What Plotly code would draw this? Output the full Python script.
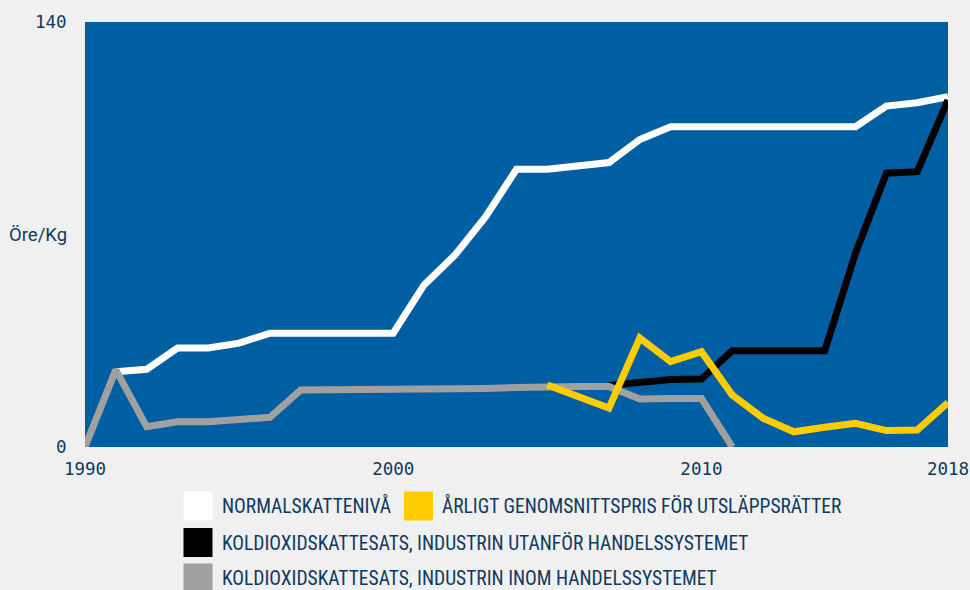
import plotly.graph_objects as go

# ---- data ----
years_normal = list(range(1991, 2019))
normal = [24.8, 25.6, 32.6, 32.6, 34.2, 37.5, 37.5, 37.5, 37.5, 37.5,
          53.4, 63.2, 75.9, 91.5, 91.5, 92.6, 93.7, 101.3, 105.5, 105.5,
          105.5, 105.5, 105.5, 105.5, 105.5, 112.3, 113.4, 115.4]

years_outside = list(range(2007, 2019))
outside = [20.3, 21.5, 22.2, 22.4, 31.7, 31.7, 31.7, 31.7, 63.9, 90.2, 90.7, 114.3]

years_inside = list(range(1990, 2012))
inside = [0.0, 25.4, 6.7, 8.3, 8.3, 9.1, 9.8, 18.8, 18.8, 18.8,
          18.8, 18.8, 19.1, 19.3, 19.6, 19.9, 19.9, 19.9, 15.8, 16.0,
          16.0, 0.0]

years_eua = list(range(2005, 2019))
eua = [20.4, 16.6, 12.8, 35.9, 28.1, 31.4, 17.1, 9.5, 5.0, 6.5, 7.8, 5.4, 5.6, 14.6]

x_ticks = [1990, 2000, 2010, 2018]
y_ticks = [0, 140]
y_label = "Öre/Kg"

legend_labels = ["NORMALSKATTENIVÅ",
                 "ÅRLIGT GENOMSNITTSPRIS FÖR UTSLÄPPSRÄTTER",
                 "KOLDIOXIDSKATTESATS, INDUSTRIN UTANFÖR HANDELSSYSTEMET",
                 "KOLDIOXIDSKATTESATS, INDUSTRIN INOM HANDELSSYSTEMET"]

# ---- styling ----
C_WHITE = "#ffffff"
C_YELLOW = "#ffcc00"
C_BLACK = "#000000"
C_GREY = "#a0a0a0"
C_BG = "#005ea2"
C_PAPER = "#f0f0f0"
C_TEXT = "#0d3a63"
legend_colors = [C_WHITE, C_YELLOW, C_BLACK, C_GREY]

W, H = 970, 590
L, R, T, B = 85, 22, 22, 143
PW, PH = W - L - R, H - T - B

def px_x(px):
    return (px - L) / PW

def px_y(py):
    return (H - B - py) / PH

fig = go.Figure()
LW = 7
fig.add_trace(go.Scatter(x=years_normal, y=normal, mode="lines",
                         line=dict(color=C_WHITE, width=LW), showlegend=False))
fig.add_trace(go.Scatter(x=years_outside, y=outside, mode="lines",
                         line=dict(color=C_BLACK, width=LW), showlegend=False))
fig.add_trace(go.Scatter(x=years_inside, y=inside, mode="lines",
                         line=dict(color=C_GREY, width=LW), showlegend=False))
fig.add_trace(go.Scatter(x=years_eua, y=eua, mode="lines",
                         line=dict(color=C_YELLOW, width=LW), showlegend=False))

tick_font = dict(family="DejaVu Sans Mono, monospace", size=17.5, color=C_TEXT)
fig.update_layout(
    width=W, height=H, autosize=False,
    margin=dict(l=L, r=R, t=T, b=B, autoexpand=False),
    paper_bgcolor=C_PAPER, plot_bgcolor=C_BG,
    showlegend=False,
    xaxis=dict(range=[1990, 2018], tickvals=x_ticks, ticktext=[str(v) for v in x_ticks],
               showgrid=False, zeroline=False, showline=False, automargin=False,
               ticks="outside", ticklen=6, tickcolor="rgba(0,0,0,0)",
               tickfont=tick_font, fixedrange=True),
    yaxis=dict(range=[0, 140], tickvals=y_ticks, ticktext=[str(v) for v in y_ticks],
               showgrid=False, zeroline=False, showline=False, automargin=False,
               ticks="outside", ticklen=14, tickcolor="rgba(0,0,0,0)",
               tickfont=tick_font, fixedrange=True),
)

fig.add_annotation(x=px_x(69), y=70, xref="paper", yref="y", text=y_label,
                   showarrow=False, xanchor="right", yanchor="middle",
                   font=dict(family="Roboto, Noto Sans, sans-serif", size=18.5, color=C_TEXT))

# ---- manual legend ----
leg_font = dict(family="Liberation Sans Narrow, Roboto Condensed, DejaVu Sans Condensed, sans-serif",
                size=19.5, color=C_TEXT)
# (square left px, center y px, text left px)
leg_pos = [(183.5, 506, 220), (404, 506, 440), (183.5, 542.5, 220), (183.5, 578, 220)]
for (sx, cy, tx), lab, col in zip(leg_pos, legend_labels, legend_colors):
    fig.add_shape(type="rect", xref="paper", yref="paper",
                  x0=px_x(sx), x1=px_x(sx + 29), y0=px_y(cy - 14.5), y1=px_y(cy + 14.5),
                  fillcolor=col, line=dict(width=0), layer="above")
    fig.add_annotation(x=px_x(tx), y=px_y(cy), xref="paper", yref="paper", text=lab,
                       showarrow=False, xanchor="left", yanchor="middle", font=leg_font)

page_js = ("document.documentElement.style.margin='0';"
           "document.body.style.margin='0';"
           "document.body.style.overflow='hidden';"
           "document.documentElement.style.overflow='hidden';"
           "document.body.style.background='#f0f0f0';")
fig.write_html("out.html", post_script=page_js,
               config={"responsive": False, "displayModeBar": False})
